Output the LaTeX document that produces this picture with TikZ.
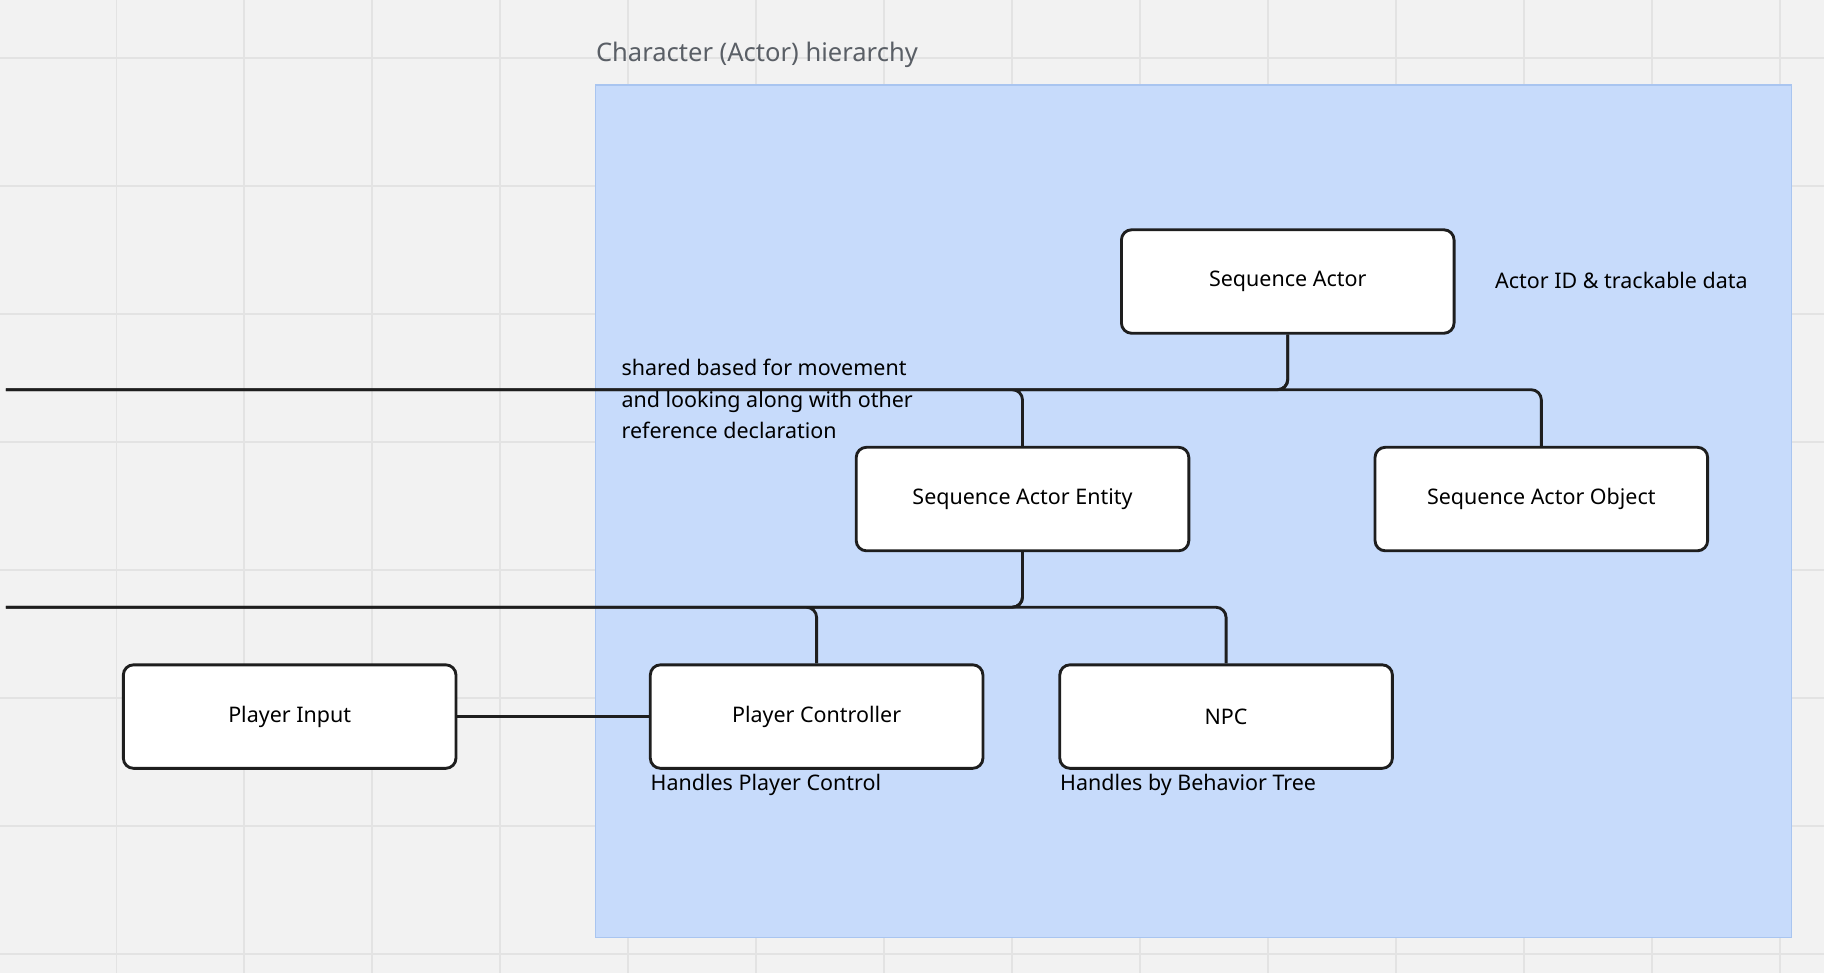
\documentclass[tikz,border=0pt]{standalone}
\usepackage{fontspec}
\setmainfont{Noto Sans}
\usetikzlibrary{positioning}
\definecolor{boardbg}{HTML}{F2F2F2}
\definecolor{gridline}{HTML}{E3E3E3}
\definecolor{areafill}{HTML}{C7DBFB}
\definecolor{arealine}{HTML}{A9C5F0}
\definecolor{titlegray}{HTML}{5A5F66}
\definecolor{boxline}{HTML}{1E1E1E}
\tikzset{
  actorbox/.style={draw=boxline,line width=1.4pt,fill=white,rounded corners=5pt,
    minimum width=5.72cm,minimum height=1.78cm,font=\fontsize{10.5}{12}\selectfont},
  link/.style={draw=boxline,line width=1.4pt,rounded corners=5pt},
  note/.style={anchor=west,inner sep=0pt,font=\fontsize{10.5}{15.5}\selectfont,align=left}
}
\begin{document}
\begin{tikzpicture}[x=0.02cm,y=-0.02cm]
      \fill[boardbg] (0,0) rectangle (1568,836);
      \useasboundingbox (0,0) rectangle (1568,836);

      % board grid
      \foreach \gx in {100,210,...,1560} {
                  \draw[gridline,line width=0.8pt] (\gx,0) -- (\gx,836);
            }
      \foreach \gy in {50,160,...,830} {
                  \draw[gridline,line width=0.8pt] (0,\gy) -- (1568,\gy);
            }

      % hierarchy area
      \draw[arealine,fill=areafill,line width=0.8pt] (512,73) rectangle (1540,806);
      \node[anchor=west,inner sep=0pt,text=titlegray,font=\fontsize{12.5}{14}\selectfont] (title) at (512,47) {Character (Actor) hierarchy};

      \node[actorbox] (seqActor) at (1107,242) {Sequence Actor};
      \node[actorbox] (seqEntity) at (879,429) {Sequence Actor Entity};
      \node[actorbox] (seqObject) at (1325,429) {Sequence Actor Object};
      \node[actorbox] (playerCtrl) at (702,616) {Player Controller};
      \node[actorbox] (npc) at (1054,616) {NPC};
      \node[actorbox] (playerInput) at (249,616) {Player Input};

      \foreach \parent\child\mid in {seqActor/seqEntity/335,seqActor/seqObject/335,seqEntity/playerCtrl/522,seqEntity/npc/522} {
                  \draw[link] (\parent.south) |- (0,\mid) -| (\child.north);
            }
      \draw[link] (playerInput.east) -- (playerCtrl.west);

      \node[note] (idNote) at (1285,241) {Actor ID \& trackable data};
      \node[note] (entityNote) at (534,343) {shared based for movement\\and looking along with other\\reference declaration};
      \node[note] (ctrlNote) at (559,675) {Handles Player Control};
      \node[note] (npcNote) at (911,675) {Handles by Behavior Tree};
\end{tikzpicture}
\end{document}
